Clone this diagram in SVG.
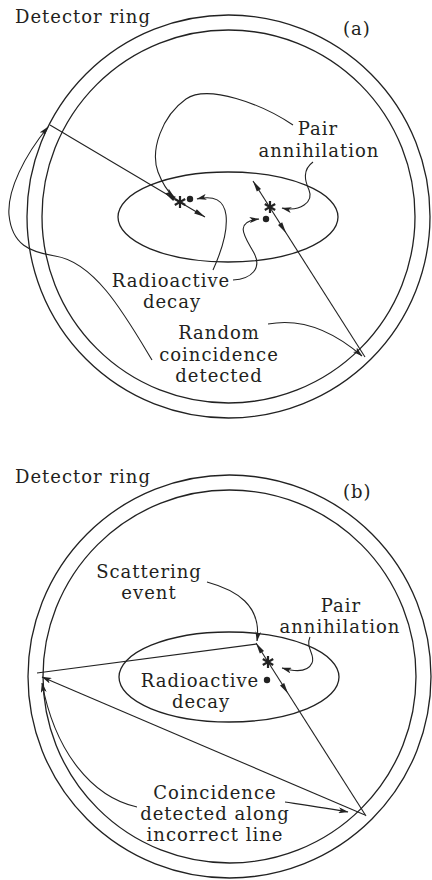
<svg xmlns="http://www.w3.org/2000/svg" width="432" height="880" viewBox="0 0 432 880">
<defs>
<style>
.ring{fill:none;stroke:#222;stroke-width:1.3}
.ln{fill:none;stroke:#222;stroke-width:1.1}
.co{fill:none;stroke:#222;stroke-width:1.1;marker-end:url(#ah)}
.hd{fill:#222;stroke:none}
.ast{stroke:#222;stroke-width:2.2;stroke-linecap:butt}
.dot{fill:#222}
text{font-family:"DejaVu Serif","Liberation Serif",serif;font-size:18px;letter-spacing:1px;fill:#231f20}
.c{text-anchor:middle}
</style>
<marker id="ah" markerWidth="10" markerHeight="6" refX="9.5" refY="3" orient="auto" markerUnits="userSpaceOnUse">
<path d="M0,0 L10,3 L0,6 L2.5,3 z" fill="#222"/>
</marker>
</defs>

<!-- Panel (a) -->
<g id="ring-a">
<circle class="ring" cx="228.5" cy="216.5" r="201.5"/>
<circle class="ring" cx="228.5" cy="216.5" r="186.5"/>
</g>
<g id="ellipse-a"><ellipse class="ring" cx="228" cy="217" rx="110" ry="45"/></g>
<g id="label-a-detector"><text x="15" y="23">Detector ring</text></g>
<g id="label-a"><text x="343" y="35">(a)</text></g>
<g id="label-a-pair"><text class="c" x="318" y="135">Pair</text><text class="c" x="319" y="157">annihilation</text></g>
<g id="label-a-decay"><text class="c" x="171" y="287">Radioactive</text><text class="c" x="172" y="308">decay</text></g>
<g id="label-a-random"><text class="c" x="219" y="339">Random</text><text class="c" x="219" y="361">coincidence</text><text class="c" x="219" y="382">detected</text></g>
<g id="event-a-left">
<line class="ast" x1="180" y1="196" x2="180" y2="208"/>
<line class="ast" x1="174.8" y1="199" x2="185.2" y2="205"/>
<line class="ast" x1="174.8" y1="205" x2="185.2" y2="199"/>
<circle class="dot" cx="190" cy="199" r="3.2"/>
</g>
<g id="event-a-right">
<line class="ast" x1="270" y1="201" x2="270" y2="213"/>
<line class="ast" x1="264.8" y1="204" x2="275.2" y2="210"/>
<line class="ast" x1="264.8" y1="210" x2="275.2" y2="204"/>
<circle class="dot" cx="266" cy="219" r="3.2"/>
</g>

<!-- Panel (b) -->
<g id="ring-b">
<circle class="ring" cx="229.5" cy="676.5" r="201.5"/>
<circle class="ring" cx="229.5" cy="676.5" r="186.5"/>
</g>
<g id="ellipse-b"><ellipse class="ring" cx="229" cy="677" rx="110" ry="45"/></g>
<g id="label-b-detector"><text x="15" y="483">Detector ring</text></g>
<g id="label-b"><text x="343" y="498">(b)</text></g>
<g id="label-b-scatter"><text class="c" x="149" y="578">Scattering</text><text class="c" x="149" y="599">event</text></g>
<g id="label-b-pair"><text class="c" x="341" y="612">Pair</text><text class="c" x="340" y="633">annihilation</text></g>
<g id="label-b-decay"><text class="c" x="200" y="687">Radioactive</text><text class="c" x="201" y="708">decay</text></g>
<g id="label-b-coinc"><text class="c" x="215" y="799">Coincidence</text><text class="c" x="215" y="820">detected along</text><text class="c" x="215" y="841">incorrect line</text></g>
<g id="event-b">
<line class="ast" x1="268" y1="656" x2="268" y2="668"/>
<line class="ast" x1="262.8" y1="659" x2="273.2" y2="665"/>
<line class="ast" x1="262.8" y1="665" x2="273.2" y2="659"/>
<circle class="dot" cx="267" cy="680" r="3.2"/>
</g>

<g id="connectors">
<!-- (a) photon lines -->
<line class="ln" x1="50" y1="125" x2="205" y2="217"/>
<polygon class="hd" points="165,193.3 173.2,201 175.8,196.8"/>
<polygon class="hd" points="205,217 194.2,213.5 196.8,209.2"/>
<line class="ln" x1="253" y1="181" x2="365" y2="357"/>
<polygon class="hd" points="253,181 256.8,191.6 261,189"/>
<polygon class="hd" points="286,232.9 278,224.9 282.2,222.3"/>
<!-- (a) callouts -->
<path class="co" d="M293,125 C262,104 208,84 186,99 C162,116 150,150 158,172 C163,185 168,192 174,197"/>
<path class="co" d="M313,162 C302,170 305,181 309,190 C314,202 300,212 282,208"/>
<path class="co" d="M233,280 C252,279 262,268 254,253 C246,238 232,222 259,219"/>
<path class="co" d="M213,270 C222,250 228,232 226,215 C224,200 214,195 197,199"/>
<path class="co" d="M152,360 C125,315 95,262 55,256 C30,252 12,245 9,215 C7,190 25,155 48,127"/>
<path class="co" d="M268,324 C300,318 332,330 362,356"/>
<!-- (b) photon lines -->
<line class="ln" x1="257" y1="644" x2="37" y2="673"/>
<line class="ln" x1="256" y1="643" x2="366" y2="816"/>
<polygon class="hd" points="256,643 259.8,653.6 264,651"/>
<polygon class="hd" points="288,693.5 280,685.5 284.2,682.9"/>
<line class="ln" x1="365" y1="815" x2="42" y2="677" marker-end="url(#ah)"/>
<!-- (b) callouts -->
<path class="co" d="M207,582 C236,590 262,605 257,641"/>
<path class="co" d="M310,637 C305,648 316,655 312,663 C308,672 296,672 282,668"/>
<path class="co" d="M285,802 C305,805 326,808 348,812"/>
<path class="co" d="M137,807 C92,797 55,752 42,683"/>
</g>
</svg>
